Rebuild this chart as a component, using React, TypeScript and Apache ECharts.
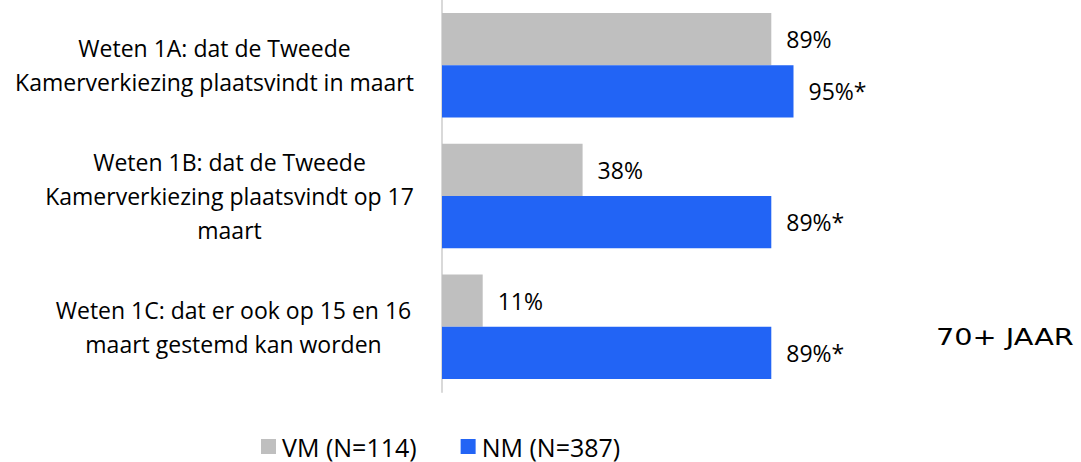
import React, { useEffect, useRef } from "react";
import * as echarts from "echarts";

const categories = [
  "Weten 1A: dat de Tweede\nKamerverkiezing plaatsvindt in maart",
  "Weten 1B: dat de Tweede\nKamerverkiezing plaatsvindt op 17\nmaart",
  "Weten 1C: dat er ook op 15 en 16\nmaart gestemd kan worden",
];
const vmValues = [89, 38, 11];
const nmValues = [95, 89, 89];
const vmLabels = ["89%", "38%", "11%"];
const nmLabels = ["95%*", "89%*", "89%*"];
const seriesNames = ["VM (N=114)", "NM (N=387)"];
const sideTitle = "70+ JAAR";

const FONT = "Open Sans";
const labelBlockWidths = [401, 371, 363];

export default function App() {
  const ref = useRef<HTMLDivElement>(null);
  useEffect(() => {
    if (!ref.current) return;
    const chart = echarts.init(ref.current, undefined, { renderer: "svg" });
    const rich: Record<string, any> = {};
    labelBlockWidths.forEach((w, i) => {
      rich["w" + i] = {
        width: w,
        align: "center",
        fontSize: 23,
        lineHeight: 34,
        color: "#000",
        fontFamily: FONT,
      };
    });
    chart.setOption({
      animation: false,
      textStyle: { fontFamily: FONT, color: "#000" },
      grid: { left: 442, top: 0, width: 370, height: 392, containLabel: false },
      xAxis: {
        type: "value",
        min: 0,
        max: 100,
        show: false,
      },
      yAxis: {
        type: "category",
        data: categories,
        inverse: true,
        axisLine: { show: true, lineStyle: { color: "#d9d9d9", width: 2 } },
        axisTick: { show: false },
        axisLabel: {
          align: "right",
          margin: 27,
          fontSize: 23,
          lineHeight: 34,
          color: "#000",
          fontFamily: FONT,
          formatter: (value: string, index: number) =>
            value
              .split("\n")
              .map((l) => `{w${index}|${l}}`)
              .join("\n"),
          rich,
        },
      },
      legend: {
        top: 429,
        left: 256,
        itemWidth: 15,
        itemHeight: 15,
        itemGap: 44,
        icon: "rect",
        textStyle: { fontSize: 25, color: "#000", fontFamily: FONT, padding: [0, 0, 0, 1] },
        data: seriesNames,
      },
      series: [
        {
          name: seriesNames[0],
          type: "bar",
          data: vmValues,
          barGap: "0%",
          barCategoryGap: "20%",
          itemStyle: { color: "#bfbfbf" },
          label: {
            show: true,
            position: "right",
            distance: 15,
            fontSize: 23,
            color: "#000",
            fontFamily: FONT,
            formatter: (p: any) => vmLabels[p.dataIndex],
          },
        },
        {
          name: seriesNames[1],
          type: "bar",
          data: nmValues,
          barGap: "0%",
          barCategoryGap: "20%",
          itemStyle: { color: "#2264f5" },
          label: {
            show: true,
            position: "right",
            distance: 15,
            fontSize: 23,
            color: "#000",
            fontFamily: FONT,
            formatter: (p: any) => nmLabels[p.dataIndex],
          },
        },
      ],
      graphic: [
        {
          type: "text",
          left: 936,
          top: 326,
          scaleX: 1.25,
          style: {
            text: sideTitle,
            fontSize: 23,
            fontFamily: "DejaVu Sans",
            fill: "#000",
          },
        },
      ],
    });
    return () => chart.dispose();
  }, []);
  return <div ref={ref} style={{ width: 1081, height: 462, position: "absolute", left: 0, top: 0 }} />;
}
